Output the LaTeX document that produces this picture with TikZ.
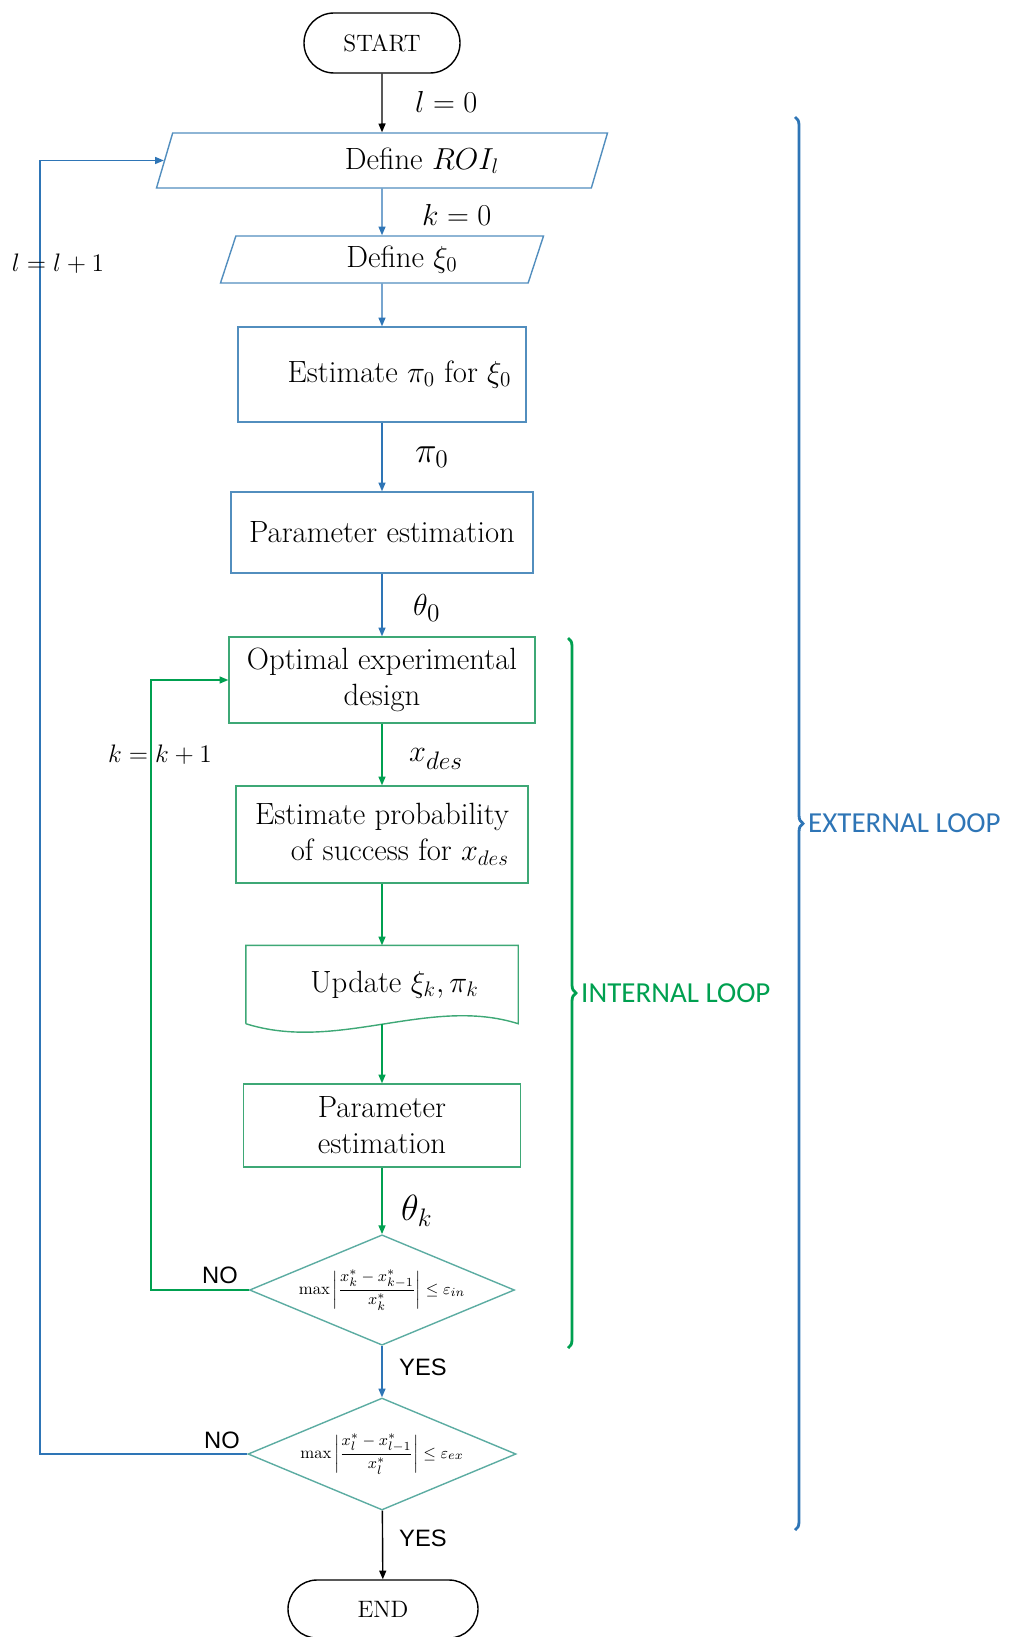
\documentclass[tikz,border=0pt]{standalone}
\usepackage{amsmath}
\usepackage{fontspec}
\setsansfont{Liberation Sans}
\newfontfamily\loopfont{Carlito}
\usepackage{tikz}
\usetikzlibrary{shapes.geometric}
\usetikzlibrary{arrows.meta}
\usetikzlibrary{decorations.pathreplacing}

\definecolor{lineblue}{RGB}{46,117,182}
\definecolor{boxblue}{RGB}{82,142,190}
\definecolor{linegreen}{RGB}{0,160,80}
\definecolor{boxgreen}{RGB}{62,168,118}
\definecolor{diateal}{RGB}{92,172,162}

\newcommand{\boxfont}{\fontsize{17.5}{20.5}\selectfont}
\newcommand{\labfont}{\fontsize{16}{19}\selectfont}

\tikzset{
  box/.style={rectangle, draw, line width=0.8pt, inner sep=2pt, font=\boxfont},
  io/.style={trapezium, trapezium stretches body, draw=boxblue, line width=0.8pt, inner sep=2pt, font=\boxfont},
  test/.style={diamond, aspect=2.4, draw=diateal, line width=0.8pt, inner sep=0pt, font=\fontsize{9.5}{11}\selectfont},
  terminal/.style={rectangle, draw, line width=0.8pt, font=\fontsize{13.5}{15}\selectfont},
  arr/.style={-{Triangle[length=5pt,width=4pt]}, line width=0.8pt},
  yesno/.style={font=\sffamily\fontsize{13.5}{15}\selectfont},
  loopbrace/.style={decorate, decoration={brace, amplitude=0.16cm}, line width=1.6pt}
}

\begin{document}
\begin{tikzpicture}
\useasboundingbox (0,0) rectangle (20.24,-32.74);
% draw nodes
\node[terminal, rounded corners=0.6cm, minimum width=3.12cm, minimum height=1.2cm] (start) at (7.64,-0.86) {START};
\node[io, trapezium left angle=64, trapezium right angle=116, minimum width=9.02cm, minimum height=1.1cm] (roi) at (7.64,-3.21) {\hspace*{1.6cm}Define $ROI_l$};
\node[io, trapezium left angle=66, trapezium right angle=114, minimum width=6.46cm, minimum height=0.94cm] (xi) at (7.64,-5.19) {\hspace*{0.8cm}Define $\xi_0$};
\node[box, draw=boxblue, minimum width=5.76cm, minimum height=1.9cm] (est) at (7.64,-7.49) {\hspace*{0.7cm}Estimate $\pi_0$ for $\xi_0$};
\node[box, draw=boxblue, minimum width=6.04cm, minimum height=1.62cm] (pe1) at (7.64,-10.65) {Parameter estimation};
\node[box, draw=boxgreen, minimum width=6.12cm, minimum height=1.72cm, align=center] (oed) at (7.64,-13.6) {Optimal experimental\\design};
\node[box, draw=boxgreen, minimum width=5.84cm, minimum height=1.94cm, align=right] (epos) at (7.64,-16.69) {Estimate probability\\of success for $x_{des}$};
\node[box, draw=none, minimum width=5.42cm, minimum height=1.54cm] (upd) at (7.64,-19.69) {\hspace*{0.5cm}Update $\xi_k, \pi_k$};
\draw[boxgreen, line width=0.8pt] (upd.south west) -- (upd.north west) -- (upd.north east) -- (upd.south east)
  .. controls +(-1.78,0.56) and +(1.84,-0.58) .. (upd.south west);
\node[box, draw=boxgreen, minimum width=5.54cm, minimum height=1.66cm, align=center] (pe2) at (7.64,-22.51) {Parameter\\estimation};
\node[test, minimum width=5.2cm, minimum height=2.16cm] (dia1) at (7.64,-25.8)
  {$\displaystyle\max\left|\frac{x_k^{*}-x_{k-1}^{*}}{x_k^{*}}\right|\le\varepsilon_{in}$};
\node[test, minimum width=5.36cm, minimum height=2.24cm] (dia2) at (7.64,-29.08)
  {$\displaystyle\max\left|\frac{x_l^{*}-x_{l-1}^{*}}{x_l^{*}}\right|\le\varepsilon_{ex}$};
\node[terminal, rounded corners=0.58cm, minimum width=3.8cm, minimum height=1.16cm] (end) at (7.66,-32.18) {END};

% draw connectors
\draw[arr] (start) -- (roi);
\draw[arr, lineblue] (roi) -- (xi);
\draw[arr, lineblue] (xi) -- (est);
\draw[arr, lineblue] (est) -- (pe1);
\draw[arr, lineblue] (pe1) -- (oed);
\draw[arr, linegreen] (oed) -- (epos);
\draw[arr, linegreen] (epos) -- (upd);
\draw[arr, linegreen] (upd) -- (pe2);
\draw[arr, linegreen] (pe2) -- (dia1);
\draw[arr, lineblue] (dia1) -- (dia2);
\draw[arr] (dia2) -- (end);

% loops back
\coordinate (inx) at (3.02,0);
\coordinate (exx) at (0.8,0);
\draw[arr, linegreen] (dia1.west) -- (dia1.west -| inx) |- (oed.west);
\draw[arr, lineblue] (dia2.west) -- (dia2.west -| exx) |- (roi.left side);

% labels on connectors
\node[font=\labfont, anchor=west] (l0) at (8.18,-2.04) {$l = 0$};
\node[font=\labfont, anchor=west] (k0) at (8.32,-4.3) {$k = 0$};
\node[font=\fontsize{20}{22}\selectfont, anchor=west] (pi0) at (8.18,-9.14) {$\pi_0$};
\node[font=\fontsize{19}{22}\selectfont, anchor=west] (th0) at (8.14,-12.16) {$\theta_0$};
\node[font=\fontsize{19}{22}\selectfont, anchor=west] (xdes) at (8.06,-15.18) {$x_{des}$};
\node[font=\fontsize{21}{24}\selectfont, anchor=west] (thk) at (7.9,-24.22) {$\theta_k$};
\node[yesno, anchor=west] (yes1) at (7.86,-27.34) {YES};
\node[yesno, anchor=west] (yes2) at (7.86,-30.76) {YES};
\node[yesno] (no1) at (4.4,-25.5) {NO};
\node[yesno] (no2) at (4.44,-28.8) {NO};
\node[font=\fontsize{15}{18}\selectfont] (kinc) at (3.2,-15.1) {$k=k+1$};
\node[font=\fontsize{15}{18}\selectfont] (linc) at (1.16,-5.28) {$l=l+1$};

% draw braces
\draw[loopbrace, linegreen] (11.36,-12.76) -- (11.36,-26.96);
\node[anchor=west, text=linegreen, font=\loopfont\fontsize{16.5}{18}\selectfont] (inloop) at (11.5,-19.86) {INTERNAL LOOP};
\draw[loopbrace, lineblue] (15.9,-2.34) -- (15.9,-30.6);
\node[anchor=west, text=lineblue, font=\loopfont\fontsize{16.5}{18}\selectfont] (exloop) at (16.04,-16.47) {EXTERNAL LOOP};
\end{tikzpicture}
\end{document}
